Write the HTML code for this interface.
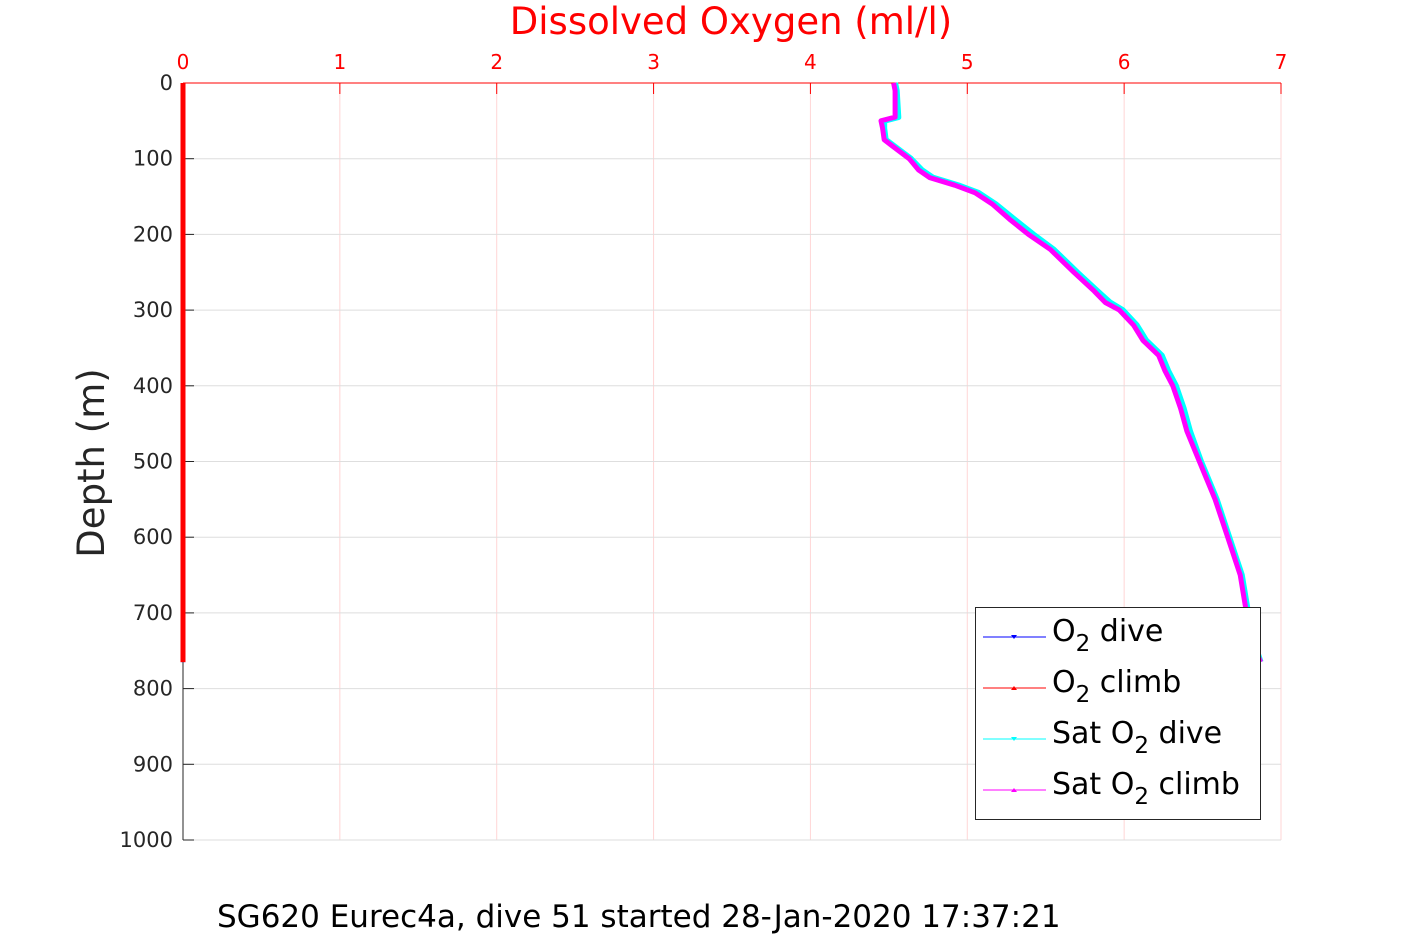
<!DOCTYPE html>
<html><head><meta charset="utf-8"><style>
body{margin:0;background:#fff;}
svg{display:block;font-family:"Liberation Sans","DejaVu Sans",sans-serif;}
</style></head><body>
<svg id="chart" width="1417" height="945">
<text x="731" y="34" text-anchor="middle" font-size="37" fill="#ff0000" font-family="DejaVu Sans, sans-serif">Dissolved Oxygen (ml/l)</text>
<text transform="translate(104,463) rotate(-90)" text-anchor="middle" font-size="37" fill="#262626" font-family="DejaVu Sans, sans-serif">Depth (m)</text>
<text x="217" y="927" font-size="31" fill="#000" font-family="DejaVu Sans, sans-serif">SG620 Eurec4a, dive 51 started 28-Jan-2020 17:37:21</text>
<g id="grid"></g><g id="axes"></g><g id="series"></g>
<g>
<rect x="975.5" y="607.5" width="285" height="212" fill="#fff" stroke="#262626" stroke-width="1"/>
<g><line x1="983" y1="637" x2="1046" y2="637" stroke="#0000ff"/><path d="M1011 635 l6 0 l-3 4z" fill="#0000ff"/><text x="1052" y="641" font-size="30" font-family="DejaVu Sans, sans-serif">O<tspan dy="10" font-size="23">2</tspan><tspan dy="-10"> dive</tspan></text></g>
<g><line x1="983" y1="688" x2="1046" y2="688" stroke="#ff0000"/><path d="M1011 690 l6 0 l-3 -4z" fill="#ff0000"/><text x="1052" y="692" font-size="30" font-family="DejaVu Sans, sans-serif">O<tspan dy="10" font-size="23">2</tspan><tspan dy="-10"> climb</tspan></text></g>
<g><line x1="983" y1="739" x2="1046" y2="739" stroke="#00ffff"/><path d="M1011 737 l6 0 l-3 4z" fill="#00ffff"/><text x="1052" y="743" font-size="30" font-family="DejaVu Sans, sans-serif">Sat O<tspan dy="10" font-size="23">2</tspan><tspan dy="-10"> dive</tspan></text></g>
<g><line x1="983" y1="790" x2="1046" y2="790" stroke="#ff00ff"/><path d="M1011 792 l6 0 l-3 -4z" fill="#ff00ff"/><text x="1052" y="794" font-size="30" font-family="DejaVu Sans, sans-serif">Sat O<tspan dy="10" font-size="23">2</tspan><tspan dy="-10"> climb</tspan></text></g>
</g>
</svg>
<script>
const xTicks=[0,1,2,3,4,5,6,7];
const yTicks=[0,100,200,300,400,500,600,700,800,900,1000];
const depths=[0,10,45,50,60,75,100,115,125,135,145,160,180,200,220,250,275,290,300,320,340,360,380,400,430,460,500,550,600,650,700,740,765];
const satClimb=[4.53,4.54,4.54,4.45,4.46,4.47,4.63,4.69,4.76,4.92,5.05,5.16,5.27,5.39,5.53,5.68,5.81,5.88,5.97,6.06,6.12,6.22,6.26,6.31,6.36,6.40,6.48,6.58,6.66,6.74,6.78,6.82,6.87];
const satDive=[4.54,4.55,4.56,4.47,4.47,4.48,4.64,4.71,4.78,4.94,5.07,5.18,5.30,5.42,5.55,5.70,5.83,5.91,5.99,6.08,6.14,6.24,6.28,6.33,6.38,6.42,6.49,6.59,6.67,6.75,6.79,6.83,6.87];
const o2Dive=[0,0,0,0,0,0,0,0,0,0,0,0,0,0,0,0,0,0,0,0,0,0,0,0,0,0,0,0,0,0,0,0,0];
const o2Climb=[0,0,0,0,0,0,0,0,0,0,0,0,0,0,0,0,0,0,0,0,0,0,0,0,0,0,0,0,0,0,0,0,0];
const X0=183,X1=1281,Y0=83,Y1=840;
const xs=v=>X0+(v-0)/(7-0)*(X1-X0);
const ys=d=>Y0+(d-0)/(1000-0)*(Y1-Y0);
const NS="http://www.w3.org/2000/svg";
function mk(tag,attrs,parent){const e=document.createElementNS(NS,tag);for(const k in attrs)e.setAttribute(k,attrs[k]);parent.appendChild(e);return e;}
const grid=document.getElementById('grid'),axes=document.getElementById('axes'),series=document.getElementById('series');
xTicks.forEach(t=>{
 const g=mk('line',{x1:xs(t),x2:xs(t),y1:Y0,y2:Y1,stroke:'#ffd6d6','stroke-width':1},grid);
 
 
 const tk=mk('line',{x1:xs(t),x2:xs(t),y1:Y0,y2:Y0+11,stroke:'#ff0000','stroke-width':1},axes);
 
 
 const lb=mk('text',{x:xs(t),y:Y0-14,'text-anchor':'middle','font-size':20,fill:'#ff0000','font-family':'DejaVu Sans, sans-serif'},axes);
 lb.textContent=t;
 
 
});
yTicks.forEach(t=>{
 const g=mk('line',{x1:X0,x2:X1,y1:ys(t),y2:ys(t),stroke:'#dedede','stroke-width':1},grid);
 
 
 const tk=mk('line',{x1:X0,x2:X0+11,y1:ys(t),y2:ys(t),stroke:'#262626','stroke-width':1},axes);
 
 
 const lb=mk('text',{x:X0-10,y:ys(t)+7,'text-anchor':'end','font-size':21,fill:'#262626','font-family':'DejaVu Sans, sans-serif'},axes);
 lb.textContent=t;
 
 
});
const la=mk('line',{x1:X0,x2:X0,y1:Y0,y2:Y1,stroke:'#262626','stroke-width':1},axes);


const ta=mk('line',{x1:X0,x2:X1,y1:Y0,y2:Y0,stroke:'#ff0000','stroke-width':1},axes);


function line(vals,color,w,name){
 const pts=vals.map((v,i)=>xs(v).toFixed(1)+','+ys(depths[i]).toFixed(1)).join(' ');
 const p=mk('polyline',{points:pts,fill:'none',stroke:color,'stroke-width':w,'stroke-linejoin':'round'},series);
 
 
}
line(satDive,'#00ffff',6,'sat-o2-dive-line');
line(satClimb,'#ff00ff',5,'sat-o2-climb-line');
line(o2Dive,'#0000ff',5,'o2-dive-line');
line(o2Climb,'#ff0000',5,'o2-climb-line');
</script>
</body></html>
